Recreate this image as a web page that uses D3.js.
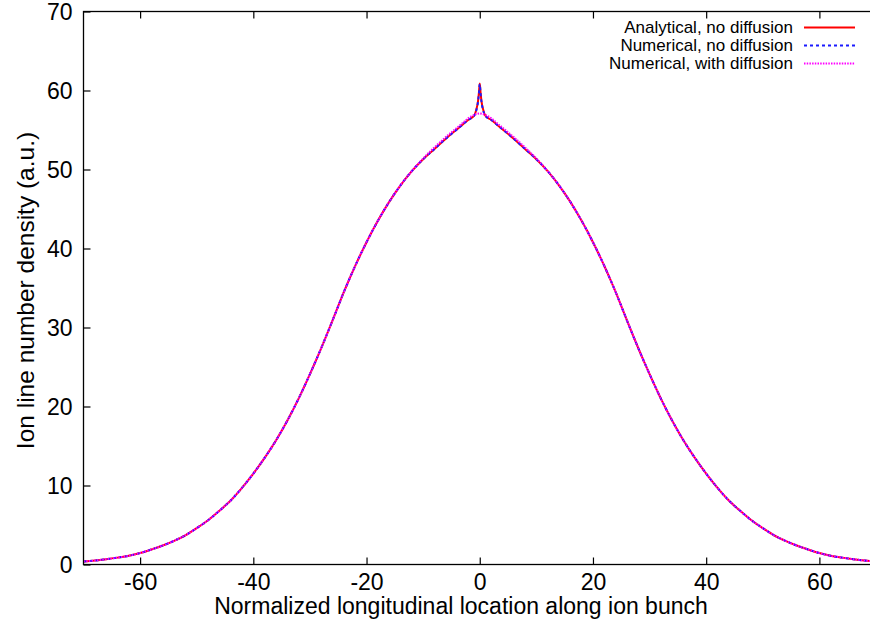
<!DOCTYPE html>
<html>
<head>
<meta charset="utf-8">
<script src="https://cdn.jsdelivr.net/npm/d3@7"></script>
<style>
  html, body { margin: 0; padding: 0; background: #fff; }
  svg { display: block; font-family: "Liberation Sans", Arial, Helvetica, sans-serif; }
</style>
</head>
<body>
<svg id="chart" width="870" height="630"></svg>
<script>
// Longitudinal positions (normalized) shared by the two no-diffusion curves
const xNoDiff = [-70,-68,-66,-64,-62,-60,-58,-56,-54,-52,-50,-48,-46,-44,-42,-40,-38,-36,-34,-32,-30,-28,-26,-24,-22,-20,-18,-16,-14,-12,-10,-8,-6,-4,-3,-2,-1,-0.6,-0.3,-0.15,0,0.15,0.3,0.6,1,2,3,4,6,8,10,12,14,16,18,20,22,24,26,28,30,32,34,36,38,40,42,44,46,48,50,52,54,56,58,60,62,64,66,68,70];

// Analytical solution, no diffusion
const analyticalNoDiff = [0.37,0.50,0.67,0.87,1.1,1.45,1.9,2.4,3.0,3.7,4.6,5.6,6.8,8.1,9.7,11.5,13.5,15.7,18.2,21.0,24.1,27.4,30.9,34.5,37.8,40.8,43.5,45.9,48.0,49.8,51.3,52.6,53.9,55.1,55.7,56.3,56.8,57.6,58.7,59.7,60.9,59.7,58.7,57.6,56.8,56.3,55.7,55.1,53.9,52.6,51.3,49.8,48.0,45.9,43.5,40.8,37.8,34.5,30.9,27.4,24.1,21.0,18.2,15.7,13.5,11.5,9.7,8.1,6.8,5.6,4.6,3.7,3.0,2.4,1.9,1.45,1.1,0.87,0.67,0.50,0.37];

// Numerical solution, no diffusion
const numericalNoDiff = [0.37,0.50,0.67,0.87,1.1,1.45,1.9,2.4,3.0,3.7,4.6,5.6,6.8,8.1,9.7,11.5,13.5,15.7,18.2,21.0,24.1,27.4,30.9,34.5,37.8,40.8,43.5,45.9,48.0,49.8,51.3,52.6,53.9,55.1,55.7,56.3,56.8,57.5,58.6,59.6,60.8,59.6,58.6,57.5,56.8,56.3,55.7,55.1,53.9,52.6,51.3,49.8,48.0,45.9,43.5,40.8,37.8,34.5,30.9,27.4,24.1,21.0,18.2,15.7,13.5,11.5,9.7,8.1,6.8,5.6,4.6,3.7,3.0,2.4,1.9,1.45,1.1,0.87,0.67,0.50,0.37];

// Numerical solution with diffusion (no central spike)
const xWithDiff = [-70,-68,-66,-64,-62,-60,-58,-56,-54,-52,-50,-48,-46,-44,-42,-40,-38,-36,-34,-32,-30,-28,-26,-24,-22,-20,-18,-16,-14,-12,-10,-8,-6,-4,-3,-2,-1,0,1,2,3,4,6,8,10,12,14,16,18,20,22,24,26,28,30,32,34,36,38,40,42,44,46,48,50,52,54,56,58,60,62,64,66,68,70];
const numericalWithDiff = [0.37,0.50,0.67,0.87,1.1,1.45,1.9,2.4,3.0,3.7,4.6,5.6,6.8,8.1,9.7,11.5,13.5,15.7,18.2,21.0,24.1,27.4,30.9,34.5,37.8,40.8,43.5,45.9,48.0,49.8,51.4,52.8,54.1,55.3,55.9,56.5,56.9,57.1,56.9,56.5,55.9,55.3,54.1,52.8,51.4,49.8,48.0,45.9,43.5,40.8,37.8,34.5,30.9,27.4,24.1,21.0,18.2,15.7,13.5,11.5,9.7,8.1,6.8,5.6,4.6,3.7,3.0,2.4,1.9,1.45,1.1,0.87,0.67,0.50,0.37];

const xTicks = [-60, -40, -20, 0, 20, 40, 60];
const yTicks = [0, 10, 20, 30, 40, 50, 60, 70];

const seriesNames = ["Analytical, no diffusion", "Numerical, no diffusion", "Numerical, with diffusion"];

const svg = d3.select("#chart");
const plot = { left: 83.5, top: 11.5, right: 876, bottom: 564.5 };

const x = d3.scaleLinear().domain([-70, 70]).range([plot.left, plot.right]);
const y = d3.scaleLinear().domain([0, 70]).range([plot.bottom, plot.top]);

const series = [
  { name: seriesNames[0], xs: xNoDiff, ys: analyticalNoDiff, color: "#ff0000", dash: null, width: 2 },
  { name: seriesNames[1], xs: xNoDiff, ys: numericalNoDiff, color: "#1a1aff", dash: "3,3", width: 2 },
  { name: seriesNames[2], xs: xWithDiff, ys: numericalWithDiff, color: "#ff00ff", dash: "1.5,1.2", width: 2 }
];

// Curves, clipped to the plotting area
svg.append("clipPath").attr("id", "plotClip")
  .append("rect")
  .attr("x", plot.left).attr("y", plot.top)
  .attr("width", plot.right - plot.left).attr("height", plot.bottom - plot.top);

const line = d3.line().curve(d3.curveMonotoneX);
const curves = svg.append("g").attr("clip-path", "url(#plotClip)");
series.forEach(s => {
  const pts = s.xs.map((v, i) => [x(v), y(s.ys[i])]);
  curves.append("path")
    .attr("d", line(pts))
    .attr("fill", "none")
    .attr("stroke", s.color)
    .attr("stroke-width", s.width)
    .attr("stroke-dasharray", s.dash)
    .attr("stroke-linejoin", "round");
});

// Axes with inward ticks; plain hyphen for negative labels
const fmt = d => String(d);
const tickStyle = g => {
  g.select(".domain").remove();
  g.selectAll(".tick line").attr("stroke", "#000").attr("stroke-width", 1.2);
  g.selectAll(".tick text").attr("fill", "#000").style("font-size", "23px");
};

svg.append("g")
  .attr("transform", `translate(0,${plot.bottom})`)
  .call(d3.axisBottom(x).tickValues(xTicks).tickFormat(fmt).tickSizeInner(-7).tickSizeOuter(0))
  .call(tickStyle)
  .call(g => g.selectAll(".tick text").attr("dy", "0.71em").attr("y", 9));

svg.append("g")
  .attr("transform", `translate(0,${plot.top})`)
  .call(d3.axisTop(x).tickValues(xTicks).tickSizeInner(-7).tickSizeOuter(0).tickFormat(""))
  .call(tickStyle);

svg.append("g")
  .attr("transform", `translate(${plot.left},0)`)
  .call(d3.axisLeft(y).tickValues(yTicks).tickFormat(fmt).tickSizeInner(-7).tickSizeOuter(0))
  .call(tickStyle)
  .call(g => g.selectAll(".tick text").attr("x", -11).attr("dy", "0.36em"));

// Frame
svg.append("rect")
  .attr("x", plot.left).attr("y", plot.top)
  .attr("width", plot.right - plot.left).attr("height", plot.bottom - plot.top)
  .attr("fill", "none").attr("stroke", "#000").attr("stroke-width", 1.3);

// Axis titles
svg.append("text")
  .attr("x", (212 + 710) / 2).attr("y", 614)
  .attr("text-anchor", "middle")
  .style("font-size", "23px")
  .text("Normalized longitudinal location along ion bunch");

svg.append("text")
  .attr("transform", `translate(34,${(128 + 453) / 2}) rotate(-90)`)
  .attr("text-anchor", "middle")
  .style("font-size", "24.5px")
  .text("Ion line number density (a.u.)");

// Legend
const legend = svg.append("g");
series.forEach((s, i) => {
  const ly = 27.5 + i * 18;
  legend.append("text")
    .attr("x", 793).attr("y", ly).attr("dy", "0.35em")
    .attr("text-anchor", "end")
    .style("font-size", "17px")
    .text(s.name);
  legend.append("line")
    .attr("x1", 804).attr("x2", 855).attr("y1", ly).attr("y2", ly)
    .attr("stroke", s.color).attr("stroke-width", s.width)
    .attr("stroke-dasharray", s.dash);
});
</script>
</body>
</html>
